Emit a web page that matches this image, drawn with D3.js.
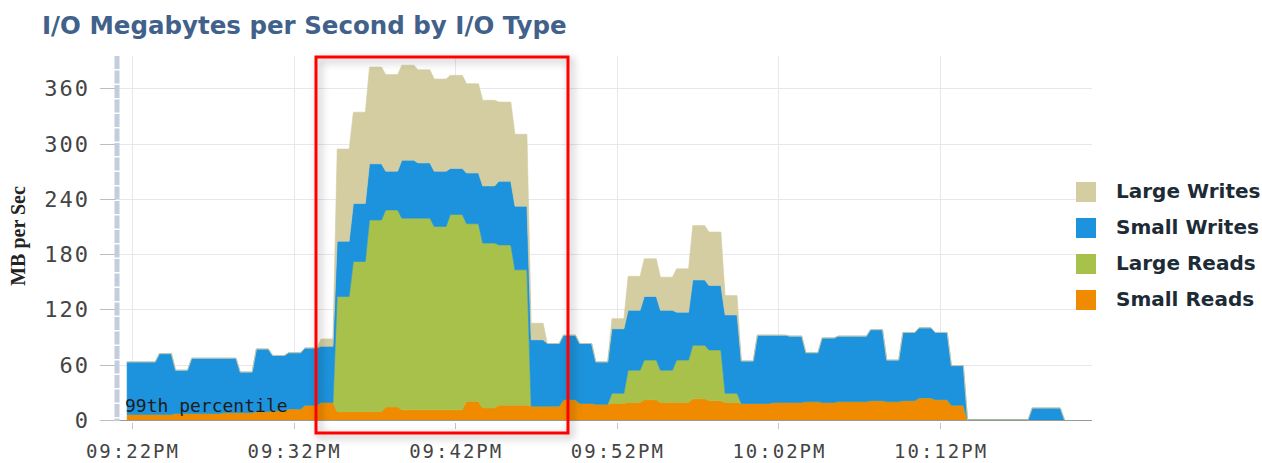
<!DOCTYPE html>
<html>
<head>
<meta charset="utf-8">
<script src="https://cdn.jsdelivr.net/npm/d3@7"></script>
<style>
  html, body { margin: 0; padding: 0; background: #fff; }
  svg { display: block; }
</style>
</head>
<body>
<main></main>
<script>
// one sample per minute, first sample 18s before 09:22PM
const START = new Date(2013, 0, 1, 21, 21, 42);
const seriesNames = ["Small Reads", "Large Reads", "Small Writes", "Large Writes"];
const legendOrder = ["Large Writes", "Small Writes", "Large Reads", "Small Reads"];
const colors = {
    "Large Writes": "#d4cda2",
    "Small Writes": "#1c93dc",
    "Large Reads": "#a8c14b",
    "Small Reads": "#f08b00"
};

const smallReads = [6,6,6,7,7,7,8,8,9,10,12,16,19,
                    9,9,9,14,11,11,11,11,20,13,16,16,
                    15,15,22,18,17,
                    18,19,22,19,19,23,21,19,
                    18,18,19,19,20,19,20,20,21,20,21,24,22,16,
                    0,0,0,0,0,0,0];
const largeReads = [0,0,0,0,0,0,0,0,0,0,0,0,0,
                    125,163,208,214,208,208,199,212,193,179,174,147,
                    0,0,0,0,0,
                    11,35,43,35,46,58,55,10,
                    0,0,0,0,0,0,0,0,0,0,0,0,0,0,
                    0,0,0,0,0,0,0];
const smallWrites = [57,57,66,47,60,60,59,44,68,60,61,62,61,
                     60,63,61,42,63,60,60,50,55,62,69,69,
                     72,68,70,65,46,
                     70,65,69,65,52,71,70,85,
                     46,74,73,72,53,70,71,71,77,45,74,76,73,43,
                     0,0,0,0,13,13,0];
const largeWrites = [0,0,0,0,0,0,0,0,0,0,0,0,8,
                     100,99,105,105,103,101,100,101,97,93,86,78,
                     18,0,0,0,0,
                     11,37,41,36,47,59,58,21,
                     0,0,0,0,0,0,0,0,0,0,0,0,0,0,
                     0,0,0,0,0,0,0];

const yTicks = [0, 60, 120, 180, 240, 300, 360];
const xTickLabels = ["09:22PM", "09:32PM", "09:42PM", "09:52PM", "10:02PM", "10:12PM"];

const W = 1262, H = 463;
const plot = { left: 119, right: 1092, top: 56, bottom: 420 };

const base = new Date(2013, 0, 1, 21, 22, 0);
const x = d3.scaleTime()
    .domain([d3.timeSecond.offset(base, -48), d3.timeSecond.offset(base, 3564)])
    .range([plot.left, plot.right]);
const y = d3.scaleLinear().domain([0, 395]).range([plot.bottom, plot.top]);

const rows = smallReads.map(function (v, i) {
    return {
        time: d3.timeMinute.offset(START, i),
        "Small Reads": v,
        "Large Reads": largeReads[i],
        "Small Writes": smallWrites[i],
        "Large Writes": largeWrites[i]
    };
});
const tickTimes = xTickLabels.map(function (s, i) { return d3.timeMinute.offset(base, i * 10); });

// flat for most of each sample interval, then a short ramp to the next one
function Plateau(context, a) { this._context = context; this._a = a; this._fwd = true; }
Plateau.prototype = {
    areaStart: function () { this._line = 0; },
    areaEnd: function () { this._line = NaN; },
    lineStart: function () { this._x = this._y = NaN; this._point = 0; },
    lineEnd: function () {
        if (this._line || (this._line !== 0 && this._point === 1)) this._context.closePath();
        if (this._line >= 0) { this._fwd = !this._fwd; this._line = 1 - this._line; }
    },
    point: function (px, py) {
        px = +px; py = +py;
        if (this._point === 0) {
            this._point = 1;
            this._line ? this._context.lineTo(px, py) : this._context.moveTo(px, py);
        } else {
            if (this._fwd) this._context.lineTo(this._x + (px - this._x) * this._a, this._y);
            else this._context.lineTo(this._x + (px - this._x) * (1 - this._a), py);
            this._context.lineTo(px, py);
        }
        this._x = px; this._y = py;
    }
};
function curvePlateau(context) { return new Plateau(context, 0.74); }

const svg = d3.select("main").append("svg")
    .attr("width", W)
    .attr("height", H)
    .style("font-family", "'DejaVu Sans', sans-serif");

const defs = svg.append("defs");
defs.append("filter")
    .attr("id", "shadow")
    .attr("x", "-10%").attr("y", "-10%")
    .attr("width", "120%").attr("height", "120%")
  .append("feDropShadow")
    .attr("dx", 3).attr("dy", 3)
    .attr("stdDeviation", 4)
    .attr("flood-color", "#000")
    .attr("flood-opacity", 0.35);

// title
svg.append("text")
    .attr("x", 42)
    .attr("y", 34)
    .attr("font-size", 24.5)
    .attr("font-weight", "bold")
    .attr("fill", "#41618b")
    .text("I/O Megabytes per Second by I/O Type");

// grid
const grid = svg.append("g").attr("stroke", "#e9e6ee").attr("stroke-width", 1);
grid.selectAll("line.h")
    .data(yTicks.filter(function (d) { return d > 0; }))
    .enter().append("line")
    .attr("class", "h")
    .attr("x1", plot.left).attr("x2", plot.right)
    .attr("y1", function (d) { return Math.round(y(d)) + 0.5; })
    .attr("y2", function (d) { return Math.round(y(d)) + 0.5; });
grid.selectAll("line.v")
    .data(tickTimes)
    .enter().append("line")
    .attr("class", "v")
    .attr("x1", function (d) { return Math.round(x(d)) + 0.5; })
    .attr("x2", function (d) { return Math.round(x(d)) + 0.5; })
    .attr("y1", plot.top).attr("y2", plot.bottom);

// stacked areas
const stacked = d3.stack().keys(seriesNames)(rows);
const area = d3.area()
    .x(function (d) { return x(d.data.time); })
    .y0(function (d) { return y(d[0]); })
    .y1(function (d) { return y(d[1]); })
    .curve(curvePlateau);

svg.append("g").selectAll("path")
    .data(stacked)
    .enter().append("path")
    .attr("fill", function (d) { return colors[d.key]; })
    .attr("stroke", function (d) { return colors[d.key]; })
    .attr("stroke-width", 0.6)
    .attr("d", area);

// x axis
svg.append("line")
    .attr("x1", plot.left).attr("x2", plot.right)
    .attr("y1", plot.bottom + 0.5).attr("y2", plot.bottom + 0.5)
    .attr("stroke", "#9a9a9a");
svg.append("g").selectAll("line")
    .data(tickTimes)
    .enter().append("line")
    .attr("x1", function (d) { return Math.round(x(d)) + 0.5; })
    .attr("x2", function (d) { return Math.round(x(d)) + 0.5; })
    .attr("y1", plot.bottom + 3).attr("y2", plot.bottom + 9)
    .attr("stroke", "#c4c4c4");
svg.append("g").selectAll("text")
    .data(tickTimes)
    .enter().append("text")
    .attr("x", function (d) { return x(d) + 1; })
    .attr("y", 458)
    .attr("text-anchor", "middle")
    .attr("font-family", "'DejaVu Sans Mono', monospace")
    .attr("font-size", 19)
    .attr("letter-spacing", 2)
    .attr("fill", "#444")
    .text(function (d, i) { return xTickLabels[i]; });

// y axis
svg.append("g").selectAll("line")
    .data(yTicks)
    .enter().append("line")
    .attr("x1", 100).attr("x2", 116)
    .attr("y1", function (d) { return Math.round(y(d)) + 0.5; })
    .attr("y2", function (d) { return Math.round(y(d)) + 0.5; })
    .attr("stroke", "#bdbdbd");
svg.append("line")
    .attr("x1", 117).attr("x2", 117)
    .attr("y1", plot.top).attr("y2", plot.bottom + 1)
    .attr("stroke", "#c3cddd")
    .attr("stroke-width", 5)
    .attr("stroke-dasharray", "13,1.5");
svg.append("g").selectAll("text")
    .data(yTicks)
    .enter().append("text")
    .attr("x", 90)
    .attr("y", function (d) { return y(d) + 8; })
    .attr("text-anchor", "end")
    .attr("font-family", "'DejaVu Sans Mono', monospace")
    .attr("font-size", 22)
    .attr("letter-spacing", 2)
    .attr("fill", "#444")
    .text(function (d) { return d; });

svg.append("text")
    .attr("transform", "translate(25,236) rotate(-90)")
    .attr("text-anchor", "middle")
    .attr("font-family", "'Liberation Serif', serif")
    .attr("font-weight", "bold")
    .attr("font-size", 20)
    .attr("fill", "#222")
    .text("MB per Sec");

svg.append("text")
    .attr("x", 125)
    .attr("y", 412)
    .attr("font-family", "'DejaVu Sans Mono', monospace")
    .attr("font-size", 18)
    .attr("fill", "#1c1c1c")
    .text("99th percentile");

// legend
const legend = svg.append("g").selectAll("g")
    .data(legendOrder)
    .enter().append("g")
    .attr("transform", function (d, i) { return "translate(1076," + (182 + i * 36) + ")"; });
legend.append("rect")
    .attr("width", 20).attr("height", 20)
    .attr("fill", function (d) { return colors[d]; });
legend.append("text")
    .attr("x", 40)
    .attr("y", 16)
    .attr("font-size", 20)
    .attr("font-weight", "bold")
    .attr("fill", "#1d2b36")
    .text(function (d) { return d; });

// highlight box
svg.append("rect")
    .attr("x", 316).attr("y", 57)
    .attr("width", 252).attr("height", 376)
    .attr("fill", "none")
    .attr("stroke", "#ff0000")
    .attr("stroke-width", 3)
    .attr("filter", "url(#shadow)");
</script>
</body>
</html>
